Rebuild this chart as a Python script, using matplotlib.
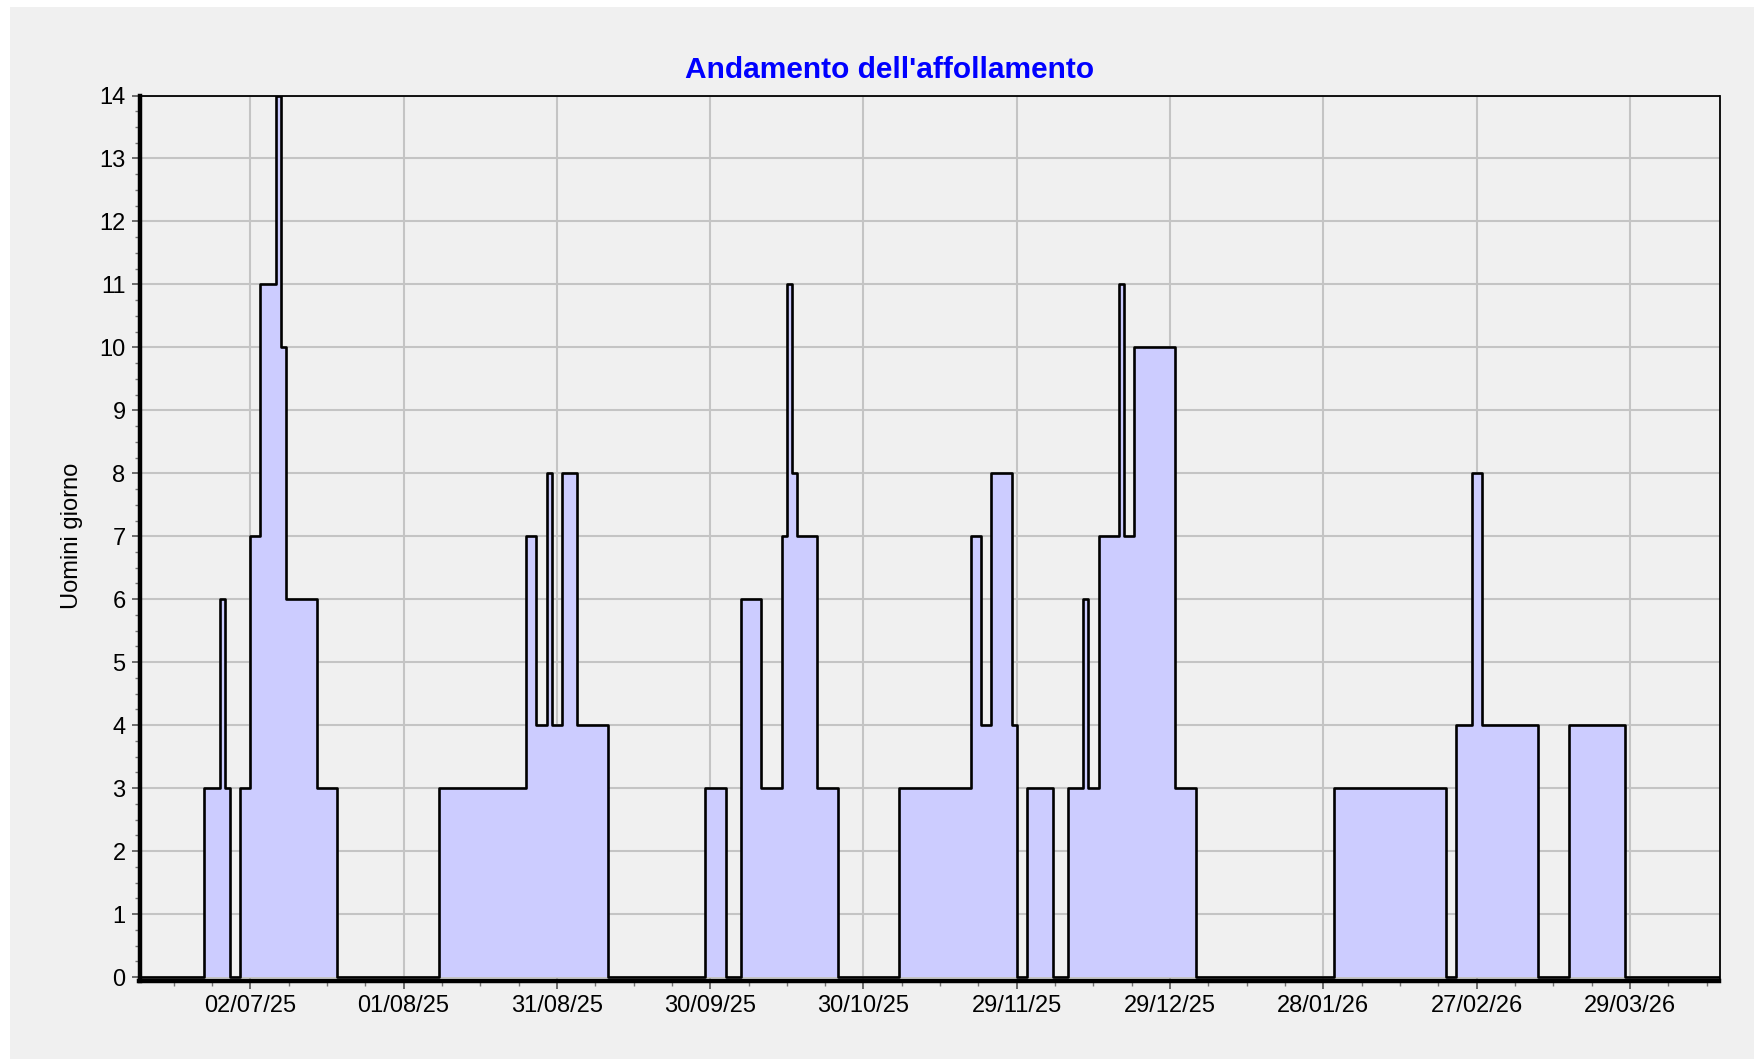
import numpy as np
import pandas as pd
import matplotlib
matplotlib.use('Agg')
import matplotlib.pyplot as plt
import matplotlib.dates as mdates
from matplotlib.patches import Rectangle
from matplotlib.ticker import FixedLocator, MultipleLocator

# Crowding profile: date where the value changes -> new value (man-days)
change_dates = [
    '2025-06-23', '2025-06-26', '2025-06-27', '2025-06-28', '2025-06-30',
    '2025-07-02', '2025-07-04', '2025-07-07', '2025-07-08', '2025-07-09',
    '2025-07-15', '2025-07-19',
    '2025-08-08', '2025-08-25', '2025-08-27', '2025-08-29', '2025-08-30',
    '2025-09-01', '2025-09-04', '2025-09-10',
    '2025-09-29', '2025-10-03', '2025-10-06', '2025-10-10', '2025-10-14',
    '2025-10-15', '2025-10-16', '2025-10-17', '2025-10-21', '2025-10-25',
    '2025-11-06', '2025-11-20', '2025-11-22', '2025-11-24', '2025-11-28',
    '2025-11-29', '2025-12-01', '2025-12-06', '2025-12-09', '2025-12-12',
    '2025-12-13', '2025-12-15', '2025-12-19', '2025-12-20', '2025-12-22',
    '2025-12-30', '2026-01-03',
    '2026-01-30', '2026-02-21', '2026-02-23', '2026-02-26', '2026-02-28',
    '2026-03-11', '2026-03-17', '2026-03-28',
]
change_values = [
    3, 6, 3, 0, 3,
    7, 11, 14, 10, 6,
    3, 0,
    3, 7, 4, 8, 4,
    8, 4, 0,
    3, 0, 6, 3, 7,
    11, 8, 7, 3, 0,
    3, 7, 4, 8, 4,
    0, 3, 0, 3, 6,
    3, 7, 11, 7, 10,
    3, 0,
    3, 0, 4, 8, 4,
    0, 4, 0,
]

x_start = '2025-06-10 08:00'
x_end = '2026-04-15 12:00'
first_tick = '2025-07-02'
tick_step_days = 30
n_ticks = 10

plt.rcParams['font.family'] = ['Liberation Sans', 'DejaVu Sans']

fig = plt.figure(figsize=(17.54, 10.59), dpi=100)
fig.patch.set_facecolor('white')
bg = Rectangle((10 / 1754, 0), 1, 1 - 7 / 1059, transform=fig.transFigure,
               facecolor='#f0f0f0', edgecolor='none', zorder=-10)
fig.add_artist(bg)

ax = fig.add_axes([139.5 / 1754, 1 - 981 / 1059, (1719.5 - 139.5) / 1754, (981 - 95.5) / 1059])
ax.set_zorder(1)
ax.set_facecolor('#f0f0f0')

x0 = mdates.date2num(pd.Timestamp(x_start))
x1 = mdates.date2num(pd.Timestamp(x_end))
xs = np.concatenate([[x0], mdates.date2num(pd.to_datetime(change_dates)), [x1]])
ys = np.array([0] + change_values + [change_values[-1]], dtype=float)

ax.fill_between(xs, ys, 0, step='post', facecolor='#ccccff', edgecolor='none', zorder=2)
ax.step(xs, ys, where='post', color='black', linewidth=1.9, zorder=3)

ax.set_xlim(x0, x1)
ax.set_ylim(-0.063, 14)

t0 = mdates.date2num(pd.Timestamp(first_tick))
major = [t0 + tick_step_days * k for k in range(n_ticks)]
minor = [t0 + tick_step_days / 4 * k for k in range(-4, 4 * n_ticks + 4)]
minor = [m for m in minor if x0 <= m <= x1]
ax.xaxis.set_major_locator(FixedLocator(major))
ax.xaxis.set_minor_locator(FixedLocator(minor))
ax.xaxis.set_major_formatter(mdates.DateFormatter('%d/%m/%y'))

ax.yaxis.set_major_locator(MultipleLocator(1))
ax.yaxis.set_minor_locator(MultipleLocator(0.25))

ax.tick_params(axis='both', which='major', labelsize=17, length=6, width=1.2,
               color='#555555', pad=4)
ax.tick_params(axis='both', which='minor', length=3.5, width=1.0, color='#777777')

ax.set_axisbelow(True)
ax.grid(True, which='major', color='#c4c4c4', linewidth=1.5)

for side in ['left', 'bottom']:
    ax.spines[side].set_linewidth(3.2)
for side in ['top', 'right']:
    ax.spines[side].set_linewidth(1.3)

fig.text(890 / 1754, 1 - 70 / 1059, "Andamento dell'affollamento", ha='center', va='center',
         fontsize=21.5, fontweight='bold', color='#0000ff')
fig.text(71.7 / 1754, 1 - 536 / 1059, 'Uomini giorno', ha='center', va='center',
         rotation=90, fontsize=17)

fig.savefig('out.png', dpi=100, facecolor=fig.get_facecolor())
